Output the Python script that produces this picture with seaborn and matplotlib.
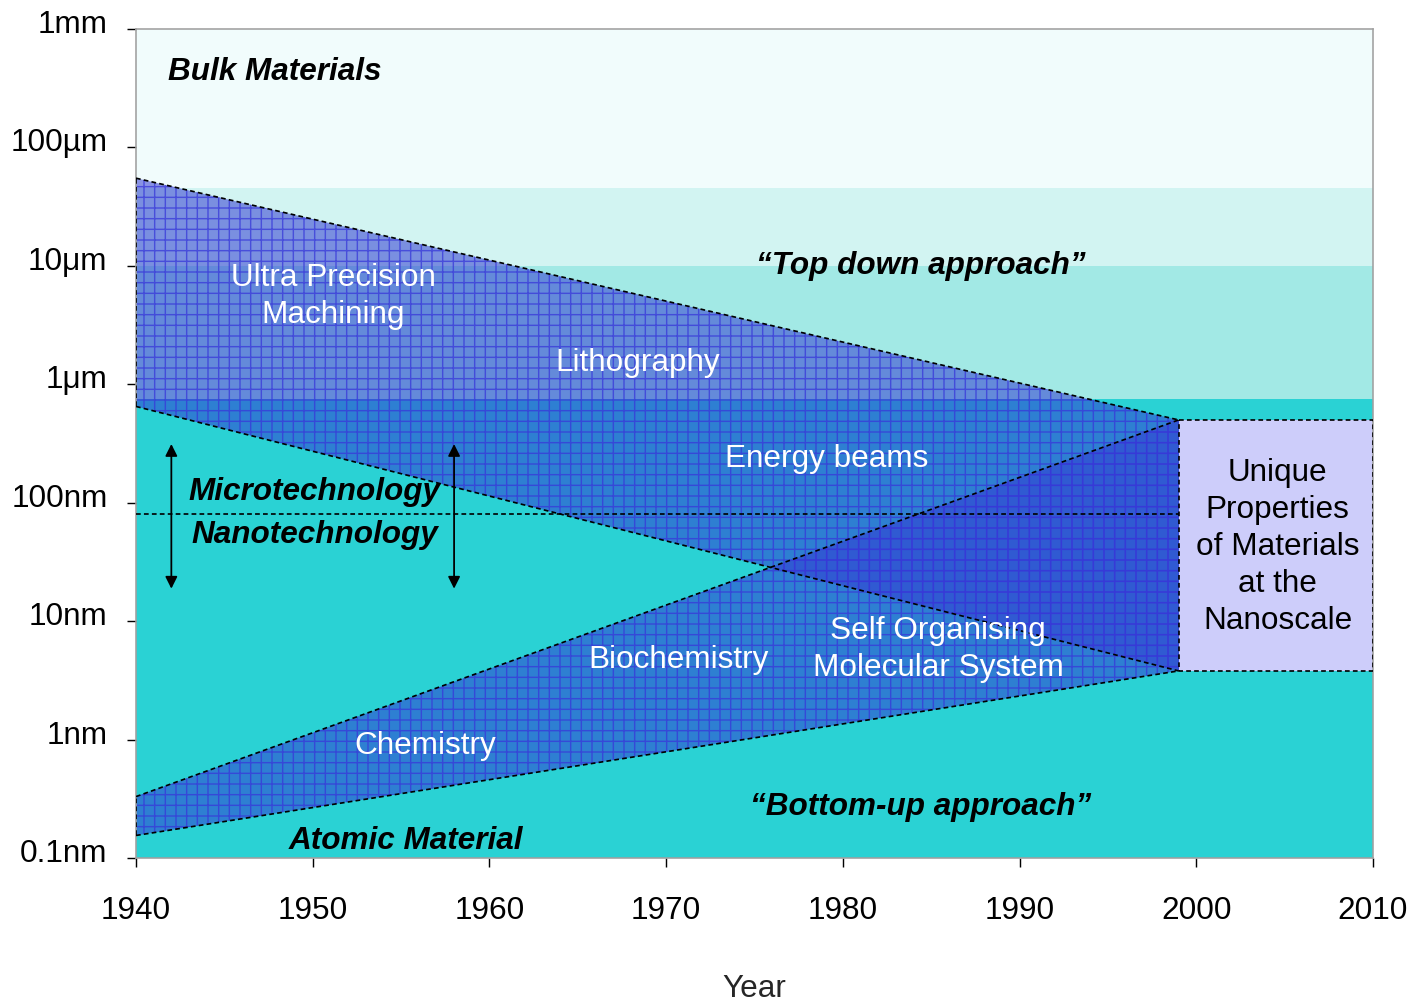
import numpy as np
import pandas as pd
import matplotlib
matplotlib.use("Agg")
import matplotlib.pyplot as plt
import matplotlib.transforms as mtransforms
import seaborn as sns

# ---------------- data (sizes in nm) ----------------
year_start, year_meet, year_end = 1940, 1999, 2010
td_years = [1940, 1999]
td_upper = [55000, 500]      # top-down approach upper edge
td_lower = [650, 3.8]        # top-down approach lower edge
bu_years = [1940, 1999]
bu_upper = [0.33, 500]       # bottom-up approach upper edge
bu_lower = [0.155, 3.8]      # bottom-up approach lower edge
nano_rect = [3.8, 500]       # unique properties box (nm)
micro_nano_line = 80         # micro/nano divide (nm)
arrow_years = [1942, 1958]
arrow_span = [18.8, 313]

band_edges = [1e6, 45000, 10000, 750, 0.1]
band_colors = ["#F1FCFC", "#D2F4F2", "#A2E9E5", "#2AD2D4"]

ytick_vals = [0.1, 1, 10, 100, 1e3, 1e4, 1e5, 1e6]
ytick_labels = ["0.1nm", "1nm", "10nm", "100nm", "1\u03bcm", "10\u03bcm", "100\u00b5m", "1mm"]
xtick_vals = [1940, 1950, 1960, 1970, 1980, 1990, 2000, 2010]

# ---------------- style ----------------
sns.set_theme(style="white")
plt.rcParams['font.family'] = ['Liberation Sans', 'DejaVu Sans']
plt.rcParams['hatch.linewidth'] = 0.8
FS = 17.7

DPI = 128
fig = plt.figure(figsize=(1418 / DPI, 1008 / DPI), dpi=DPI)
ax = fig.add_axes([136 / 1418, 1 - 858 / 1008, (1373 - 136) / 1418, (858 - 29) / 1008])
ax.set_yscale("log")
ax.set_xlim(year_start, year_end)
ax.set_ylim(0.1, 1e6)

# background bands
for i, c in enumerate(band_colors):
    ax.axhspan(band_edges[i + 1], band_edges[i], color=c, zorder=0, lw=0)

fill_rgba = (50 / 255, 60 / 255, 210 / 255, 0.55)
hatch_col = (0.22, 0.22, 0.85, 0.75)
for yrs, lo, hi in [(td_years, td_lower, td_upper), (bu_years, bu_lower, bu_upper)]:
    ax.fill_between(yrs, lo, hi, facecolor=fill_rgba, edgecolor=hatch_col,
                    hatch="++", linewidth=0, zorder=1)

# unique properties box
ax.fill_between([year_meet, year_end], nano_rect[0], nano_rect[1],
                facecolor="#CDCDFA", edgecolor="none", linewidth=0, zorder=2)

# dashed outlines via seaborn
edges = []
def add_edge(name, xs, ys):
    for x, y in zip(xs, ys):
        edges.append({"edge": name, "year": x, "size": y})
add_edge("td_up", td_years, td_upper)
add_edge("td_lo", td_years, td_lower)
add_edge("td_left", [year_start, year_start], [td_lower[0], td_upper[0]])
add_edge("bu_up", bu_years, bu_upper)
add_edge("bu_lo", bu_years, bu_lower)
add_edge("bu_left", [year_start, year_start], [bu_lower[0], bu_upper[0]])
add_edge("mn", [year_start, year_meet], [micro_nano_line, micro_nano_line])
add_edge("box", [year_meet, year_end, year_end, year_meet, year_meet],
         [nano_rect[1], nano_rect[1], nano_rect[0], nano_rect[0], nano_rect[1]])
edf = pd.DataFrame(edges)
sns.lineplot(data=edf, x="year", y="size", units="edge", estimator=None, sort=False,
             color="black", linewidth=0.95, linestyle=(0, (2.8, 1.9)), ax=ax, zorder=3)

# arrows
for xa in arrow_years:
    ax.annotate("", xy=(xa, arrow_span[0]), xytext=(xa, arrow_span[1]),
                arrowprops=dict(arrowstyle="<|-|>", color="black", lw=1.0,
                                mutation_scale=14, shrinkA=0, shrinkB=0), zorder=4)

# texts
bi = dict(fontsize=FS, fontweight="bold", fontstyle="italic", color="black", zorder=5)
wt = dict(fontsize=FS, color="white", zorder=5, ha="center", va="center", linespacing=1.3)
ax.text(1941.8, 4.35e5, "Bulk Materials", ha="left", va="center", **bi)
ax.text(1984.4, 1.0e4, "\u201cTop down approach\u201d", ha="center", va="center", **bi)
ax.text(1950.1, 123, "Microtechnology", ha="center", va="center", **bi)
ax.text(1950.1, 53.6, "Nanotechnology", ha="center", va="center", **bi)
ax.text(1984.4, 0.27, "\u201cBottom-up approach\u201d", ha="center", va="center", **bi)
ax.text(1955.3, 0.14, "Atomic Material", ha="center", va="center", **bi)
ax.text(1951.15, 5.5e3, "Ultra Precision\nMachining", **wt)
ax.text(1968.4, 1.5e3, "Lithography", **wt)
ax.text(1979.1, 234, "Energy beams", **wt)
ax.text(1985.4, 5.75, "Self Organising\nMolecular System", **wt)
ax.text(1970.7, 4.7, "Biochemistry", **wt)
ax.text(1956.35, 0.89, "Chemistry", **wt)
ax.text(2004.6, 42.5, "Unique\nProperties\nof Materials\nat the\nNanoscale",
        fontsize=FS, color="black", ha="center", va="center", zorder=5, linespacing=1.3)

# axes
ax.set_yticks(ytick_vals)
ax.set_yticklabels(ytick_labels)
ax.yaxis.set_minor_locator(matplotlib.ticker.NullLocator())
ax.set_xticks(xtick_vals)
ax.set_xticklabels([str(v) for v in xtick_vals])
ax.tick_params(axis="both", which="major", labelsize=FS, colors="black", direction="out",
               length=5, width=0.8)
ax.tick_params(axis="y", pad=11, left=True)
ax.tick_params(axis="x", pad=16.5, bottom=True)
ax.set_xlabel("Year", fontsize=FS, labelpad=27)
ax.set_ylabel("")
# y tick labels sit slightly above their ticks in the reference
up = mtransforms.ScaledTranslation(0, 7.5 / DPI, fig.dpi_scale_trans)
for lab in ax.get_yticklabels():
    lab.set_transform(lab.get_transform() + up)
for s in ax.spines.values():
    s.set_color("#A0A0A0")
    s.set_linewidth(0.9)
    s.set_visible(True)

fig.savefig("out.png", dpi=DPI)
